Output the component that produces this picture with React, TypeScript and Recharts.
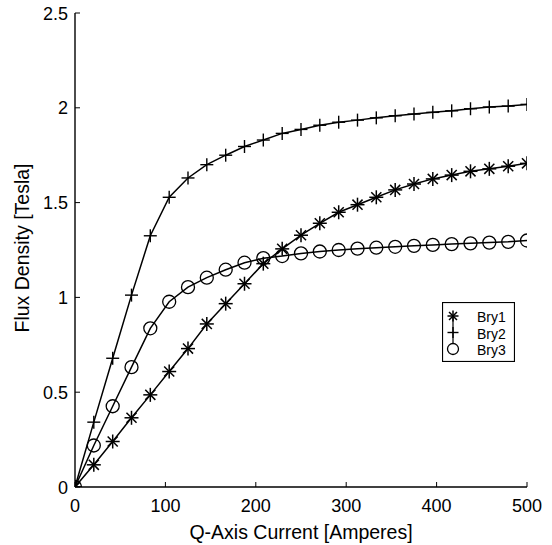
import React from 'react';
import { LineChart, Line, XAxis, YAxis, Legend, Label } from 'recharts';

const currents = [0, 20.8, 41.7, 62.5, 83.3, 104.2, 125, 145.8, 166.7, 187.5, 208.3, 229.2, 250, 270.8, 291.7, 312.5, 333.3, 354.2, 375, 395.8, 416.7, 437.5, 458.3, 479.2, 500];
const bry1 = [0, 0.117, 0.24, 0.365, 0.486, 0.609, 0.73, 0.86, 0.967, 1.072, 1.178, 1.256, 1.328, 1.391, 1.449, 1.489, 1.528, 1.567, 1.598, 1.625, 1.645, 1.665, 1.678, 1.692, 1.707];
const bry2 = [0, 0.342, 0.679, 1.012, 1.325, 1.528, 1.63, 1.7, 1.75, 1.796, 1.83, 1.865, 1.886, 1.908, 1.924, 1.935, 1.947, 1.958, 1.967, 1.976, 1.984, 1.995, 2.004, 2.009, 2.018];
const bry3 = [0, 0.219, 0.426, 0.632, 0.837, 0.977, 1.054, 1.104, 1.146, 1.183, 1.207, 1.218, 1.232, 1.242, 1.25, 1.257, 1.262, 1.267, 1.272, 1.277, 1.281, 1.285, 1.289, 1.293, 1.3];

const xTicks = [0, 100, 200, 300, 400, 500];
const yTicks = [0, 0.5, 1, 1.5, 2, 2.5];
const yTickLabels = ['0', '0.5', '1', '1.5', '2', '2.5'];
const seriesNames = ['Bry1', 'Bry2', 'Bry3'];

const data = currents.map((c, i) => ({ current: c, Bry1: bry1[i], Bry2: bry2[i], Bry3: bry3[i] }));

const FONT = '"Liberation Sans", Arial, Helvetica, sans-serif';
const INK = '#000';
const TICK = 5;

const Asterisk = ({ cx, cy, r = 7 }: any) => {
  const d = r * 0.72;
  return (
    <g stroke={INK} strokeWidth={1.5} fill="none">
      <line x1={cx - r} y1={cy} x2={cx + r} y2={cy} />
      <line x1={cx} y1={cy - r} x2={cx} y2={cy + r} />
      <line x1={cx - d} y1={cy - d} x2={cx + d} y2={cy + d} />
      <line x1={cx - d} y1={cy + d} x2={cx + d} y2={cy - d} />
    </g>
  );
};
const Plus = ({ cx, cy, r = 6.5 }: any) => (
  <g stroke={INK} strokeWidth={1.4} fill="none">
    <line x1={cx - r} y1={cy} x2={cx + r} y2={cy} />
    <line x1={cx} y1={cy - r} x2={cx} y2={cy + r} />
  </g>
);
const Circle = ({ cx, cy, r = 6.5 }: any) => (
  <circle cx={cx} cy={cy} r={r} stroke={INK} strokeWidth={1.3} fill="none" />
);

const dotFor = (Comp: any) => (props: any) => {
  const { cx, cy, index } = props;
  if (cx == null || cy == null) return <g key={index} />;
  return <Comp key={index} cx={cx} cy={cy} />;
};

const BottomTick = (props: any) => {
  const { x, y, payload } = props;
  return (
    <g>
      <line x1={x} y1={y} x2={x} y2={y - TICK} stroke={INK} strokeWidth={1} />
      <text x={x} y={y + 25} textAnchor="middle" fontFamily={FONT} fontSize={18} fill={INK}>
        {payload.value}
      </text>
    </g>
  );
};
const TopTick = (props: any) => {
  const { x, y } = props;
  return <line x1={x} y1={y} x2={x} y2={y + TICK} stroke={INK} strokeWidth={1} />;
};
const LeftTick = (props: any) => {
  const { x, y, payload } = props;
  const label = yTickLabels[yTicks.indexOf(payload.value)] ?? String(payload.value);
  return (
    <g>
      <line x1={x} y1={y} x2={x + TICK} y2={y} stroke={INK} strokeWidth={1} />
      <text x={x - 7} y={y + 6.5} textAnchor="end" fontFamily={FONT} fontSize={18} fill={INK}>
        {label}
      </text>
    </g>
  );
};
const RightTick = (props: any) => {
  const { x, y } = props;
  return <line x1={x} y1={y} x2={x - TICK} y2={y} stroke={INK} strokeWidth={1} />;
};

const XTitle = (props: any) => {
  const vb = props.viewBox;
  return (
    <text x={vb.x + vb.width / 2} y={vb.y + vb.height - 6} textAnchor="middle" fontFamily={FONT} fontSize={19.5} fill={INK}>
      Q-Axis Current [Amperes]
    </text>
  );
};
const YTitle = (props: any) => {
  const vb = props.viewBox;
  const cx = vb.x + 29;
  const cy = vb.y + vb.height / 2 - 2;
  return (
    <text x={cx} y={cy} transform={`rotate(-90 ${cx} ${cy})`} textAnchor="middle" fontFamily={FONT} fontSize={19.5} fill={INK}>
      Flux Density [Tesla]
    </text>
  );
};

const markerMap: Record<string, any> = { Bry1: Asterisk, Bry2: Plus, Bry3: Circle };

const LegendBox = (props: any) => {
  const payload = props.payload || [];
  const rowsY = [14, 30.5, 47];
  const textY = [20, 36.5, 53];
  return (
    <svg width={73} height={60} style={{ display: 'block' }}>
      <rect x={0.5} y={0.5} width={72} height={59} fill="#fff" stroke={INK} strokeWidth={1.2} />
      <line x1={11} y1={rowsY[0]} x2={11} y2={rowsY[2] - 5.5} stroke={INK} strokeWidth={1.2} />
      {payload.map((p: any, i: number) => {
        const M = markerMap[p.value] || Circle;
        return (
          <g key={p.value}>
            <M cx={11} cy={rowsY[i]} r={5.5} />
            <text x={35} y={textY[i]} fontFamily={FONT} fontSize={14} fill={INK}>
              {p.value}
            </text>
          </g>
        );
      })}
    </svg>
  );
};

export default function App() {
  return (
    <div style={{ position: 'absolute', left: 0, top: 0, width: 552, height: 545, background: '#fff' }}>
      <LineChart width={552} height={545} data={data} margin={{ top: 13, right: 25, bottom: 0, left: 0 }}>
        <XAxis
          dataKey="current"
          type="number"
          domain={[0, 500]}
          ticks={xTicks}
          allowDataOverflow
          height={58}
          tickSize={0}
          tickMargin={0}
          tickLine={false}
          axisLine={{ stroke: INK, strokeWidth: 1.4 }}
          tick={<BottomTick />}
          interval={0}
        >
          <Label content={<XTitle />} />
        </XAxis>
        <XAxis
          xAxisId="top"
          orientation="top"
          dataKey="current"
          type="number"
          domain={[0, 500]}
          ticks={xTicks}
          allowDataOverflow
          height={0}
          tickSize={0}
          tickMargin={0}
          tickLine={false}
          axisLine={{ stroke: INK, strokeWidth: 1.4 }}
          tick={<TopTick />}
          interval={0}
        />
        <YAxis
          type="number"
          domain={[0, 2.5]}
          ticks={yTicks}
          allowDataOverflow
          width={75}
          tickSize={0}
          tickMargin={0}
          tickLine={false}
          axisLine={{ stroke: INK, strokeWidth: 1.4 }}
          tick={<LeftTick />}
          interval={0}
        >
          <Label content={<YTitle />} />
        </YAxis>
        <YAxis
          yAxisId="right"
          orientation="right"
          type="number"
          domain={[0, 2.5]}
          ticks={yTicks}
          allowDataOverflow
          width={0}
          tickSize={0}
          tickMargin={0}
          tickLine={false}
          axisLine={{ stroke: INK, strokeWidth: 1.4 }}
          tick={<RightTick />}
          interval={0}
        />
        <Legend
          layout="vertical"
          align="center"
          verticalAlign="middle"
          content={<LegendBox />}
          wrapperStyle={{ position: 'absolute', left: 442, top: 302, width: 73, height: 60 }}
        />
        <Line name={seriesNames[0]} dataKey="Bry1" type="linear" stroke={INK} strokeWidth={1.5} dot={dotFor(Asterisk)} activeDot={false} isAnimationActive={false} />
        <Line name={seriesNames[1]} dataKey="Bry2" type="linear" stroke={INK} strokeWidth={1.5} dot={dotFor(Plus)} activeDot={false} isAnimationActive={false} />
        <Line name={seriesNames[2]} dataKey="Bry3" type="linear" stroke={INK} strokeWidth={1.5} dot={dotFor(Circle)} activeDot={false} isAnimationActive={false} />
      </LineChart>
    </div>
  );
}
